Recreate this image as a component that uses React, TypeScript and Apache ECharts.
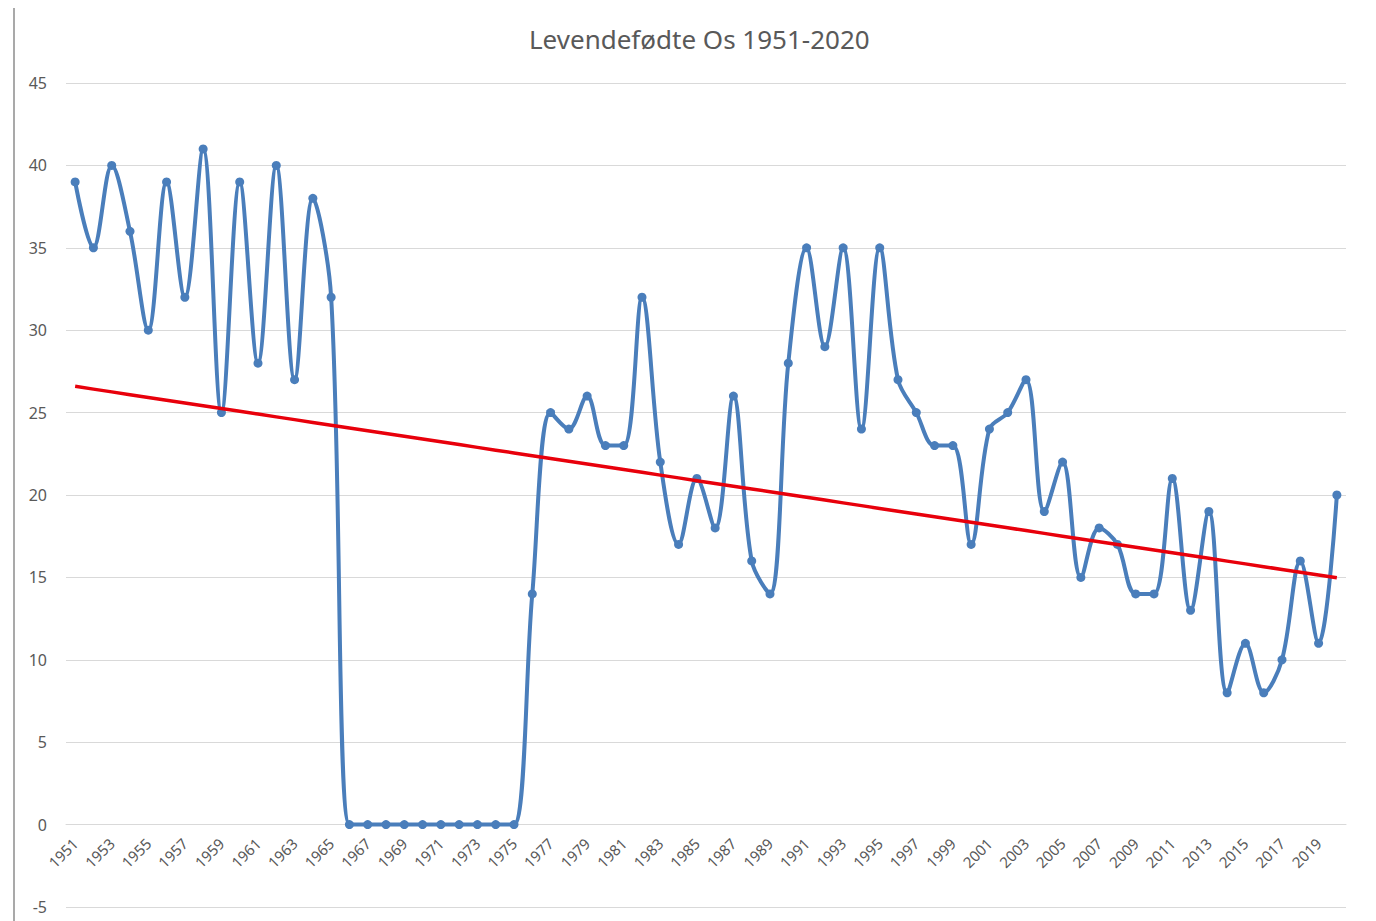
import React, { useEffect, useRef } from "react";
import * as echarts from "echarts";

const years: string[] = [
  "1951","1952","1953","1954","1955","1956","1957","1958","1959","1960",
  "1961","1962","1963","1964","1965","1966","1967","1968","1969","1970",
  "1971","1972","1973","1974","1975","1976","1977","1978","1979","1980",
  "1981","1982","1983","1984","1985","1986","1987","1988","1989","1990",
  "1991","1992","1993","1994","1995","1996","1997","1998","1999","2000",
  "2001","2002","2003","2004","2005","2006","2007","2008","2009","2010",
  "2011","2012","2013","2014","2015","2016","2017","2018","2019","2020",
];

const births: number[] = [
  39, 35, 40, 36, 30, 39, 32, 41, 25, 39,
  28, 40, 27, 38, 32, 0, 0, 0, 0, 0,
  0, 0, 0, 0, 0, 14, 25, 24, 26, 23,
  23, 32, 22, 17, 21, 18, 26, 16, 14, 28,
  35, 29, 35, 24, 35, 27, 25, 23, 23, 17,
  24, 25, 27, 19, 22, 15, 18, 17, 14, 14,
  21, 13, 19, 8, 11, 8, 10, 16, 11, 20,
];

const titleText = "Levendefødte Os 1951-2020";

// Linear trendline (least squares), as Excel's trendline
function trend(values: number[]): number[] {
  const n = values.length;
  let sx = 0, sy = 0, sxx = 0, sxy = 0;
  values.forEach((v, i) => {
    sx += i; sy += v; sxx += i * i; sxy += i * v;
  });
  const b = (n * sxy - sx * sy) / (n * sxx - sx * sx);
  const a = (sy - b * sx) / n;
  return values.map((_, i) => a + b * i);
}

export default function App() {
  const ref = useRef<HTMLDivElement>(null);
  useEffect(() => {
    if (!ref.current) return;
    const chart = echarts.init(ref.current, undefined, { renderer: "svg" });
    const font = "'Noto Sans', 'Open Sans', sans-serif";
    const gridTop = 83;
    const gridBottom = 14;
    const plotH = 921 - gridTop - gridBottom;
    const zeroOffset = -(plotH * 5) / 50;
    chart.setOption({
      animation: false,
      backgroundColor: "#ffffff",
      textStyle: { fontFamily: font },
      title: {
        text: titleText,
        left: 524,
        top: 21,
        textStyle: { fontSize: 26, fontWeight: "normal", color: "#595959", fontFamily: font },
      },
      grid: { left: 66, right: 30, top: gridTop, bottom: gridBottom, containLabel: false, outerBoundsMode: "none" },
      xAxis: {
        type: "category",
        data: years,
        boundaryGap: true,
        offset: zeroOffset,
        axisLine: { onZero: false, lineStyle: { color: "#d9d9d9", width: 1 } },
        axisTick: { show: false },
        axisLabel: {
          interval: 1,
          rotate: 45,
          fontSize: 15,
          color: "#595959",
          margin: 16,
          fontFamily: font,
        },
      },
      yAxis: {
        type: "value",
        min: -5,
        max: 45,
        interval: 5,
        axisLine: { show: false },
        axisTick: { show: false },
        axisLabel: { fontSize: 16, color: "#595959", margin: 19, align: "right", fontFamily: font },
        splitLine: { lineStyle: { color: "#d9d9d9", width: 1 } },
      },
      graphic: [
        {
          type: "line",
          shape: { x1: 14, y1: 8, x2: 14, y2: 921 },
          style: { stroke: "#8c8c8c", lineWidth: 1.5 },
          silent: true,
        },
      ],
      series: [
        {
          name: "Levendefødte",
          type: "line",
          data: births,
          smooth: 0.35,
          symbol: "circle",
          symbolSize: 9,
          lineStyle: { color: "#4a7ebb", width: 4 },
          itemStyle: { color: "#4a7ebb" },
          z: 2,
        },
        {
          name: "Trend",
          type: "line",
          data: trend(births),
          symbol: "none",
          lineStyle: { color: "#e8000b", width: 3.5 },
          z: 3,
        },
      ],
    });
    return () => chart.dispose();
  }, []);
  return (
    <div
      ref={ref}
      style={{ position: "fixed", left: 0, top: 0, width: 1376, height: 921 }}
    />
  );
}
